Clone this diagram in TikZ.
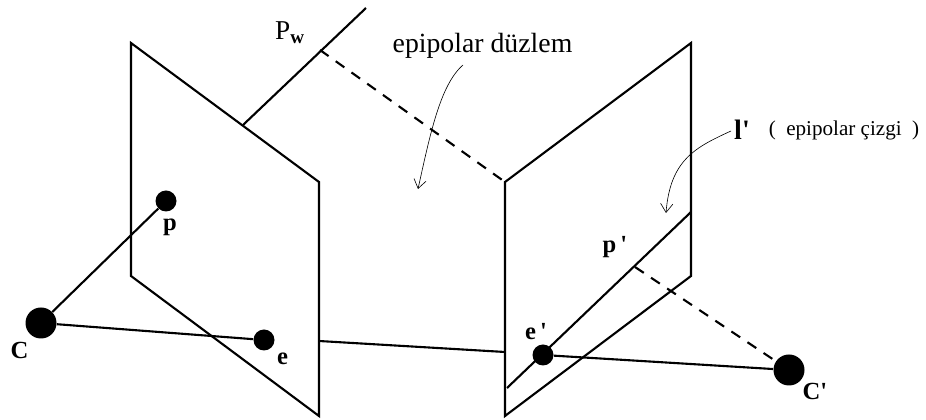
\documentclass[tikz,border=0pt]{standalone}
\usepackage{fontspec}
\setmainfont{Liberation Serif}
\usetikzlibrary{arrows.meta,bending}
\tikzset{
dotsmall/.style={circle,fill=black,inner sep=0pt,minimum size=0.42cm},
dotbig/.style={circle,fill=black,inner sep=0pt,minimum size=0.62cm},
edgeline/.style={line width=1.2pt},
dashline/.style={line width=1.2pt,dash pattern=on 6pt off 5pt},
curvearrow/.style={line width=0.35pt,-{Straight Barb[length=5pt,width=7pt]}},
boldlabel/.style={font=\fontsize{14}{16}\selectfont\bfseries,inner sep=0pt},
textlabel/.style={font=\fontsize{15.8}{18}\selectfont,inner sep=0pt}
}
\begin{document}
\begin{tikzpicture}
\useasboundingbox (0,0) rectangle (18.52,8.4);
% corners of the two planes
\coordinate (la) at (2.62,7.54);
\coordinate (lb) at (6.38,4.76);
\coordinate (lc) at (6.38,0.08);
\coordinate (ld) at (2.62,2.88);
\coordinate (ra) at (10.10,4.76);
\coordinate (rb) at (13.82,7.54);
\coordinate (rc) at (13.82,2.88);
\coordinate (rd) at (10.10,0.08);
\draw[edgeline,line join=miter](la)--(lb)--(lc)--(ld)--cycle;
\draw[edgeline,line join=miter](ra)--(rb)--(rc)--(rd)--cycle;
% points
\node[dotsmall](p)at(3.32,4.38){};
\node[dotsmall](e)at(5.28,1.60){};
\node[dotsmall](eprime)at(10.86,1.30){};
\node[dotbig](C)at(0.82,1.94){};
\node[dotbig](Cprime)at(15.78,1.00){};
% rays
\coordinate (wtop) at (7.32,8.24);
\coordinate (wbase) at (4.86,5.90);
\coordinate (wdash) at (6.40,7.40);
\coordinate (lstart) at (10.14,0.64);
\coordinate (lend) at (13.82,4.16);
\coordinate (pprime) at (12.70,3.06);
\coordinate (gapa) at (6.38,1.58);
\coordinate (gapb) at (10.10,1.36);
\draw[edgeline](wbase)--(wtop);
\draw[edgeline](lstart)--(lend);
\draw[edgeline](C)--(p);
\draw[edgeline](C)--(e);
\draw[edgeline](gapa)--(gapb);
\draw[edgeline](eprime)--(Cprime);
\draw[dashline](wdash)--(ra);
\draw[dashline](pprime)--(Cprime);
% labels
\node[boldlabel](plabel)at(3.40,3.86){p};
\node[boldlabel](elabel)at(5.65,1.22){e};
\node[boldlabel](Clabel)at(0.39,1.40){C};
\node[boldlabel](Cprimelabel)at(16.30,0.58){C\textquotesingle};
\node[boldlabel](pprimelabel)at(12.30,3.46){p\,\textquotesingle};
\node[boldlabel](eprimelabel)at(10.72,1.76){e\,\textquotesingle};
\node[textlabel,font=\fontsize{15.5}{18}\selectfont](Pw)at(5.80,7.74){P\textsubscript{\textbf{w}}};
\node[textlabel](plane)at(9.65,7.48){epipolar düzlem};
\node[boldlabel,font=\fontsize{16}{18}\selectfont\bfseries](lprime)at(14.84,5.80){l\textquotesingle};
\node[textlabel,font=\fontsize{12}{14}\selectfont](line)at(16.88,5.80){(\,\,\,epipolar çizgi\,\,\,)};
% thin arrows
\coordinate (planearrow) at (9.26,7.10);
\coordinate (planetip) at (8.36,4.62);
\coordinate (linearrow) at (14.62,5.78);
\coordinate (linetip) at (13.32,4.14);
\draw[curvearrow](planearrow)..controls (8.80,6.70) and (8.60,5.70)..(planetip);
\draw[curvearrow](linearrow)..controls (13.90,5.45) and (13.40,5.20)..(linetip);
\end{tikzpicture}
\end{document}
